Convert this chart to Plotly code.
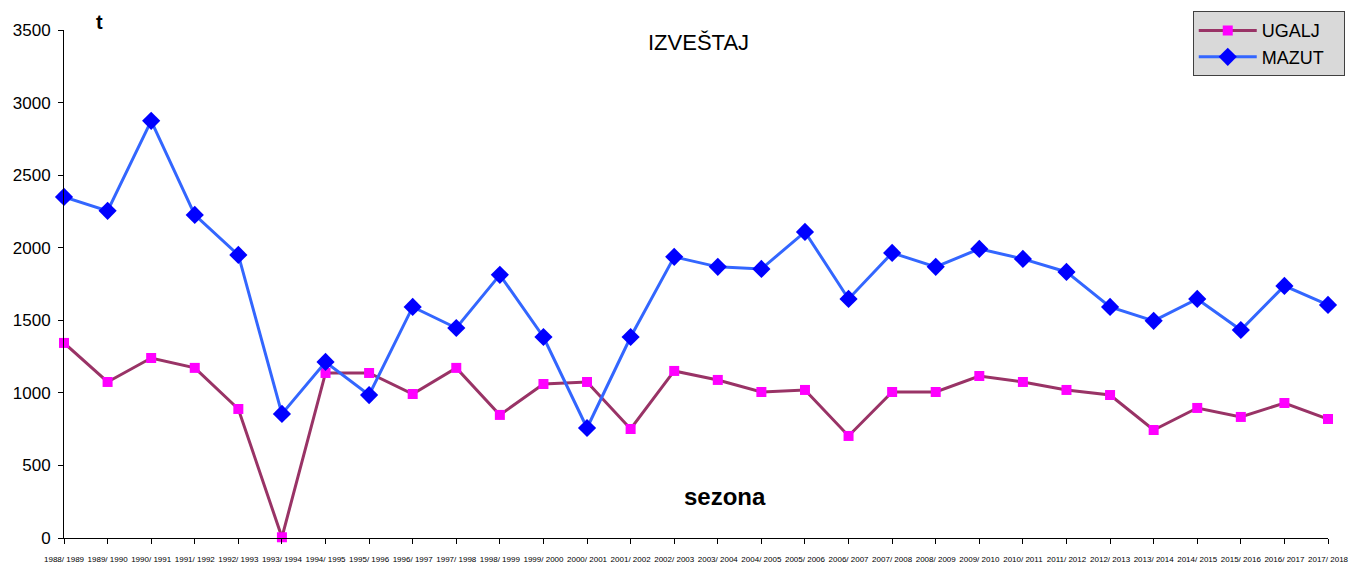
import plotly.graph_objects as go

seasons = ["1988/ 1989", "1989/ 1990", "1990/ 1991", "1991/ 1992", "1992/ 1993",
           "1993/ 1994", "1994/ 1995", "1995/ 1996", "1996/ 1997", "1997/ 1998",
           "1998/ 1999", "1999/ 2000", "2000/ 2001", "2001/ 2002", "2002/ 2003",
           "2003/ 2004", "2004/ 2005", "2005/ 2006", "2006/ 2007", "2007/ 2008",
           "2008/ 2009", "2009/ 2010", "2010/ 2011", "2011/ 2012", "2012/ 2013",
           "2013/ 2014", "2014/ 2015", "2015/ 2016", "2016/ 2017", "2017/ 2018"]

ugalj = [1344, 1075, 1240, 1172, 889, 5, 1137, 1137, 992, 1172,
         848, 1061, 1075, 751, 1151, 1089, 1006, 1020, 703, 1006,
         1006, 1116, 1075, 1020, 985, 744, 896, 834, 930, 820]

mazut = [2350, 2254, 2874, 2226, 1950, 855, 1213, 985, 1592, 1447,
         1813, 1385, 758, 1385, 1937, 1868, 1854, 2109, 1647, 1964,
         1868, 1992, 1923, 1833, 1592, 1496, 1647, 1433, 1737, 1606]

y_ticks = [0, 500, 1000, 1500, 2000, 2500, 3000, 3500]

pad = "\u00a0\u00a0\u00a0"

fig = go.Figure()
fig.add_trace(go.Scatter(
    x=seasons, y=ugalj, name="UGALJ" + pad, mode="lines+markers",
    line=dict(color="#993366", width=3),
    marker=dict(symbol="square", size=10, color="#FF00FF"),
    cliponaxis=False))
fig.add_trace(go.Scatter(
    x=seasons, y=mazut, name="MAZUT" + pad, mode="lines+markers",
    line=dict(color="#3366FF", width=3),
    marker=dict(symbol="diamond", size=14, color="#0000FF"),
    cliponaxis=False))

fig.update_layout(
    width=1351, height=564,
    margin=dict(l=64, r=23, t=30, b=26, autoexpand=False),
    paper_bgcolor="white", plot_bgcolor="white",
    font=dict(family="Liberation Sans, Arial, sans-serif", color="black"),
    showlegend=True,
    legend=dict(x=0.893, y=1.037, xanchor="left", yanchor="top",
                bgcolor="#D9D9D9", bordercolor="#404040", borderwidth=1,
                font=dict(size=18), tracegroupgap=0, itemwidth=58),
    xaxis=dict(type="category", range=[0, 29], showline=True, linecolor="black",
               linewidth=1, ticks="outside", ticklen=5, tickcolor="black",
               tickfont=dict(size=8), tickangle=0, showgrid=False, zeroline=False,
               automargin=False, ticklabelstandoff=8),
    yaxis=dict(range=[0, 3500], tickvals=y_ticks, showline=True, linecolor="black",
               linewidth=1, ticks="outside", ticklen=5, tickcolor="black",
               tickfont=dict(size=17), showgrid=False, zeroline=False,
               automargin=False, ticklabelstandoff=4),
    annotations=[
        dict(text="<b>t</b>", x=0.028, y=1.016, xref="paper", yref="paper",
             xanchor="center", yanchor="middle",
             showarrow=False, font=dict(size=20)),
        dict(text="IZVEŠTAJ", x=0.502, y=0.976, xref="paper", yref="paper",
             xanchor="center", yanchor="middle",
             showarrow=False, font=dict(size=22)),
        dict(text="<b>sezona</b>", x=0.523, y=0.081, xref="paper", yref="paper",
             xanchor="center", yanchor="middle",
             showarrow=False, font=dict(size=24)),
    ],
)

fig.write_html(
    "out.html",
    config={"displayModeBar": False},
    post_script="document.body.style.margin='0';document.body.style.overflow='hidden';",
)
